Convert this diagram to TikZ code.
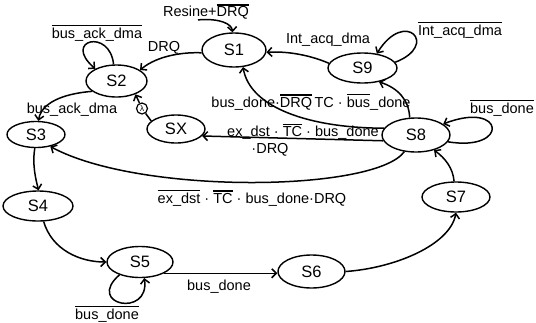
\documentclass[tikz,border=0pt]{standalone}
\usepackage{fontspec}
\setmainfont{Liberation Sans}
\usetikzlibrary{arrows.meta,shapes.geometric}
% negated signal: text with a bar over it
\newcommand{\negd}[1]{\leavevmode\vbox{\hrule height 1.2pt\kern 1.3pt\hbox{#1}}}

\begin{document}
\begin{tikzpicture}[x=1pt,y=-1pt,
  state/.style={draw, ellipse, line width=1.4pt, inner sep=0pt,
                font=\fontsize{16.5}{18}\selectfont},
  lbl/.style={font=\fontsize{14.5}{16}\selectfont, inner sep=0pt},
  edge/.style={line width=1.5pt, -{Straight Barb[length=4.5pt,width=9pt]}},
  plain/.style={line width=1.5pt}]
\useasboundingbox (0,0) rectangle (536,322);

% states
\node[state, minimum width=64pt, minimum height=34pt] (S1) at (234,50) {S1};
\node[state, minimum width=61pt, minimum height=32pt] (S2) at (116.5,81) {S2};
\node[state, minimum width=69pt, minimum height=30pt] (S9) at (362.5,68) {S9};
\node[state, minimum width=68pt, minimum height=34pt] (S8) at (416,135) {S8};
\node[state, minimum width=68pt, minimum height=30pt] (S7) at (456,197) {S7};
\node[state, minimum width=67pt, minimum height=33pt] (S6) at (311.5,271.5) {S6};
\node[state, minimum width=66pt, minimum height=31pt] (S5) at (140,262) {S5};
\node[state, minimum width=70pt, minimum height=30pt] (S4) at (38,206) {S4};
\node[state, minimum width=58pt, minimum height=26pt] (S3) at (36,134.5) {S3};
\node[state, minimum width=58pt, minimum height=28pt] (SX) at (176,129) {SX};

% reset entry into S1
\node[lbl] (res) at (206,12) {Resine+\negd{DRQ}};
\draw[edge] ([xshift=-8pt]res.south) .. controls (220,18) and (232,24) .. (S1.95);

% S1 -> S2
\draw[edge] (S1.185) .. controls (185,52) and (158,55) .. (S2.25);
\node[lbl] (l12) at (164,48) {DRQ};

% S2 self loop
\draw[edge] (S2.100) .. controls (110,28) and (62,40) .. (S2.150);
\node[lbl] (l22) at (97,33) {\negd{bus\_ack\_dma}};

% S2 -> S3
\draw[edge] (S2.203) .. controls (70,93) and (42,100) .. (S3.80);
\node[lbl] (l23) at (72,110) {bus\_ack\_dma};

% SX -> S2 through the lambda junction
\node[draw, circle, line width=1.2pt, minimum size=11pt, inner sep=0pt,
      font=\fontsize{8}{9}\selectfont] (lam) at (142,108.5) {λ};
\draw[plain] (SX.162) -- (lam);
\draw[edge] (lam) -- (S2.-35);

% S3 -> S4 -> S5
\draw[edge] (S3.-95) .. controls (32,165) and (36,180) .. (S4.88);
\draw[edge] (S4.-70) .. controls (52,250) and (80,262) .. (S5.180);

% S5 self loop
\draw[edge] (S5.212) .. controls (85,305) and (150,318) .. (S5.285);
\node[lbl] (l55) at (107,314) {\negd{bus\_done}};

% S5 -> S6
\draw[edge] (S5.-25) -- (S5.-25 -| S6.west);
\node[lbl] (l56) at (219,287) {bus\_done};

% S6 -> S7 -> S8
\draw[edge] (S6.east) .. controls (395,268) and (450,245) .. (S7.south);
\draw[edge] (S7.97) .. controls (453,168) and (445,158) .. (S8.-40);

% S8 self loop
\draw[edge] (S8.-12) .. controls (510,152) and (505,100) .. (S8.22);
\node[lbl] (l88) at (502,108) {\negd{bus\_done}};

% S8 -> S9
\draw[edge] (S8.110) .. controls (409,100) and (398,88) .. (S9.-40);

% S9 self loop
\draw[edge] (S9.10) .. controls (440,45) and (405,8) .. (S9.45);
\node[lbl] (l99) at (460,30) {\negd{Int\_acq\_dma}};

% S9 -> S1
\draw[edge] (S9.172) .. controls (312,56) and (290,51) .. (S1.-4);
\node[lbl] (l91) at (328,40) {Int\_acq\_dma};

% S8 -> S1
\draw[edge] (S8.168) .. controls (310,128) and (250,108) .. (S1.-62);
\node[lbl] (l81) at (311,102) {bus\_done·\negd{DRQ}\,TC · \negd{bus}\_done};

% S8 -> SX
\draw[edge] (S8.190) -- (SX.-15);
\node[lbl] (l8x) at (303,132) {ex\_dst · \negd{TC} · bus\_done};
\node[lbl] (l8xb) at (270,150) {·DRQ};

% S8 -> S3
\draw[edge] (S8.235) .. controls (375,192) and (140,195) .. (S3.-40);
\node[lbl] (l83) at (252,198) {\negd{ex\_dst} · \negd{TC} · bus\_done·DRQ};
\end{tikzpicture}
\end{document}
